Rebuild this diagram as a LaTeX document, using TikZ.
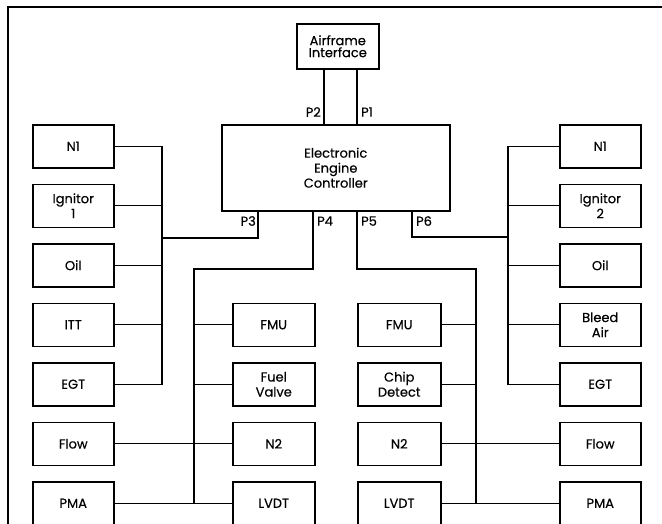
\documentclass[tikz,border=0pt]{standalone}
\usepackage{fontspec}
\setmainfont{Poppins}
\newfontfamily\boxfont{Poppins}[FakeBold=0.4]
\usetikzlibrary{positioning}

\tikzset{
  unit/.style={draw, line width=1.5pt, align=center, anchor=north west,
    minimum width=81pt, minimum height=43pt, inner sep=1pt,
    font=\boxfont\fontsize{13}{15}\selectfont},
  wire/.style={line width=1.3pt},
  port/.style={inner sep=0pt, font=\boxfont\fontsize{13}{14}\selectfont}
}

\begin{document}
\begin{tikzpicture}[x=1pt, y=-1pt]
\useasboundingbox (0,0) rectangle (662,523);
\clip (0,0) rectangle (662,523);
% outer frame (only top and left edges are in view)
\draw[line width=1.8pt] (8,540) -- (8,7) -- (680,7);

% controller and airframe
\node[unit, minimum width=82pt, minimum height=45pt] (afi) at (296,23) {Airframe\\[-3pt]Interface};
\node[unit, minimum width=228pt, minimum height=86pt] (ecc) at (221,124) {Electronic\\Engine\\Controller};

% connector points on the controller
\coordinate (p1) at (357,124);
\coordinate (p2) at (324,124);
\coordinate (p3) at (258,210);
\coordinate (p4) at (313,210);
\coordinate (p5) at (357,210);
\coordinate (p6) at (412,210);
\coordinate (lbus) at (162,238);
\coordinate (ilbus) at (194,269);
\coordinate (irbus) at (476,269);
\coordinate (rbus) at (508,237);

\node[port, anchor=east] (lp2) at (321,112) {P2};
\node[port, anchor=west] (lp1) at (361,112) {P1};
\node[port, anchor=east] (lp3) at (256,221) {P3};
\node[port, anchor=west] (lp4) at (317,221) {P4};
\node[port, anchor=west] (lp5) at (361,221) {P5};
\node[port, anchor=west] (lp6) at (416,221) {P6};

% left column
\node[unit] (n1L) at (32,124) {N1};
\node[unit] (ignL) at (32,183.5) {Ignitor\\1};
\node[unit] (oilL) at (32,243) {Oil};
\node[unit] (ittL) at (32,302.5) {ITT};
\node[unit] (egtL) at (32,362) {EGT};
\node[unit] (flowL) at (32,421.5) {Flow};
\node[unit] (pmaL) at (32,481) {PMA};

% inner left column
\node[unit, minimum width=82pt] (fmuL) at (232,302.5) {FMU};
\node[unit, minimum width=82pt] (fvL) at (232,362) {Fuel\\Valve};
\node[unit, minimum width=82pt] (n2L) at (232,421.5) {N2};
\node[unit, minimum width=82pt] (lvdtL) at (232,481) {LVDT};

% inner right column
\node[unit, minimum width=83pt] (fmuR) at (357,302.5) {FMU};
\node[unit, minimum width=83pt] (chipR) at (357,362) {Chip\\Detect};
\node[unit, minimum width=83pt] (n2R) at (357,421.5) {N2};
\node[unit, minimum width=83pt] (lvdtR) at (357,481) {LVDT};

% right column
\node[unit] (n1R) at (559,124) {N1};
\node[unit] (ignR) at (559,183.5) {Ignitor\\2};
\node[unit] (oilR) at (559,243) {Oil};
\node[unit] (bleedR) at (559,302.5) {Bleed\\Air};
\node[unit] (egtR) at (559,362) {EGT};
\node[unit] (flowR) at (559,421.5) {Flow};
\node[unit] (pmaR) at (559,481) {PMA};

% P1, P2
\draw[wire] (afi.south -| p2) -- (p2);
\draw[wire] (afi.south -| p1) -- (p1);

% P3 bus
\draw[wire] (p3) |- (lbus);
\draw[wire] (n1L.east) -| (egtL.east -| lbus) -- (egtL.east);
\draw[wire] (ignL.east) -- (ignL.east -| lbus);
\draw[wire] (oilL.east) -- (oilL.east -| lbus);
\draw[wire] (ittL.east) -- (ittL.east -| lbus);

% P4 bus
\draw[wire] (p4) |- (ilbus) |- (lvdtL.west);
\draw[wire] (pmaL.east) -- (lvdtL.west);
\draw[wire] (flowL.east) -- (n2L.west);
\draw[wire] (fmuL.west) -- (fmuL.west -| ilbus);
\draw[wire] (fvL.west) -- (fvL.west -| ilbus);

% P5 bus
\draw[wire] (p5) |- (irbus) |- (lvdtR.east);
\draw[wire] (lvdtR.east) -- (pmaR.west);
\draw[wire] (n2R.east) -- (flowR.west);
\draw[wire] (fmuR.east) -- (fmuR.east -| irbus);
\draw[wire] (chipR.east) -- (chipR.east -| irbus);

% P6 bus
\draw[wire] (p6) |- (rbus);
\draw[wire] (n1R.west) -| (egtR.west -| rbus) -- (egtR.west);
\draw[wire] (ignR.west) -- (ignR.west -| rbus);
\draw[wire] (oilR.west) -- (oilR.west -| rbus);
\draw[wire] (bleedR.west) -- (bleedR.west -| rbus);
\end{tikzpicture}
\end{document}
